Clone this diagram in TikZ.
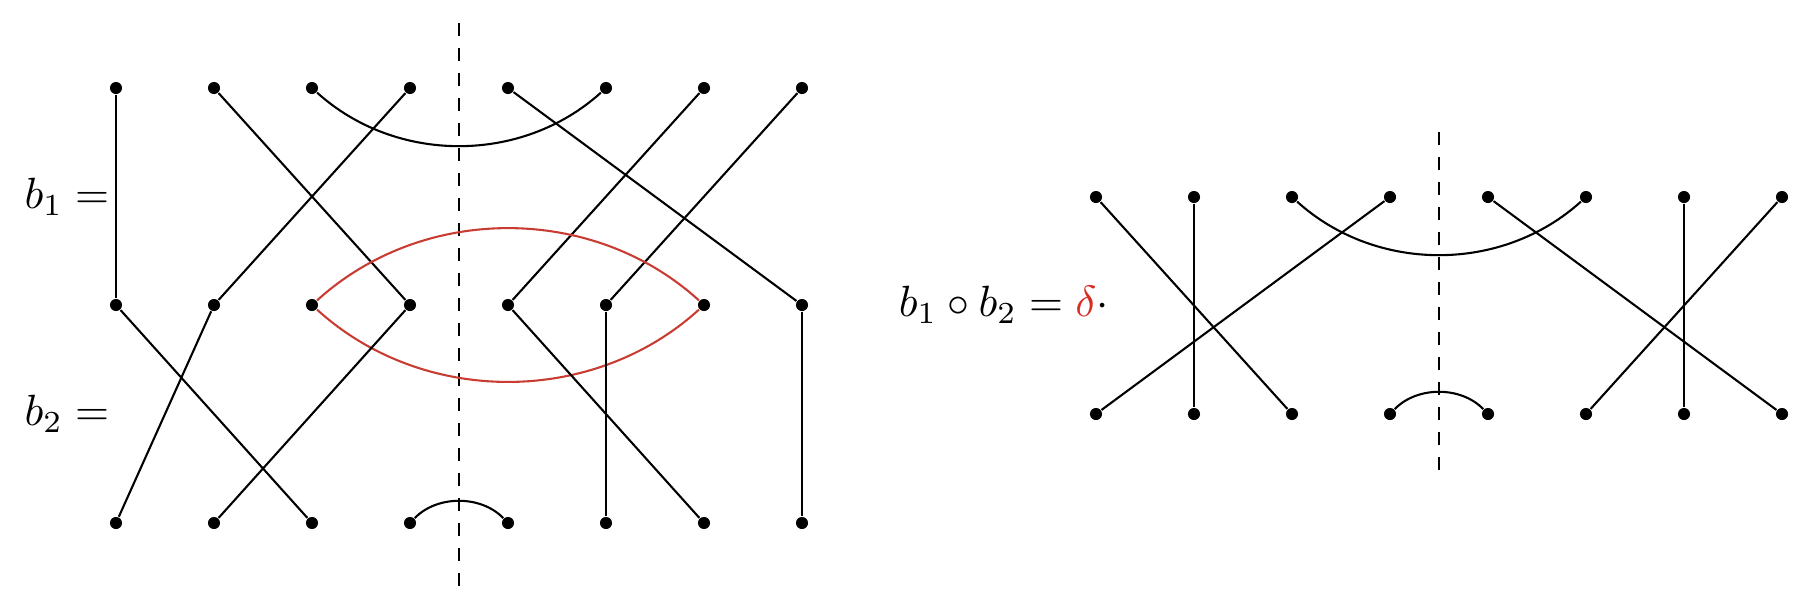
\documentclass[tikz,border=0pt]{standalone}
\usepackage{amsmath}
\definecolor{lensred}{RGB}{200,60,50}
\definecolor{deltared}{RGB}{215,45,35}
\begin{document}
\begin{tikzpicture}[x=0.24pt,y=-0.24pt,
  dot/.style={circle,fill=black,inner sep=0pt,minimum size=2.9pt},
  strand/.style={line width=0.5pt},
  lens/.style={line width=0.5pt,draw=lensred},
  axis/.style={line width=0.45pt,dash pattern=on 3pt off 3pt}]
\useasboundingbox (0,0) rectangle (1818,610);
% left diagram dots
\foreach \i/\x in {1/116,2/214,3/312,4/410,5/508,6/606,7/704,8/802}{
  \node[dot] (t\i) at (\x,88) {};
  \node[dot] (m\i) at (\x,305) {};
  \node[dot] (c\i) at (\x,523) {};
}
% right diagram dots
\foreach \i/\x in {1/1096,2/1194,3/1292,4/1390,5/1488,6/1586,7/1684,8/1782}{
  \node[dot] (p\i) at (\x,197) {};
  \node[dot] (q\i) at (\x,414) {};
}
% dashed axes
\coordinate (la) at (459,23);
\coordinate (lb) at (459,588);
\coordinate (ra) at (1439,132);
\coordinate (rb) at (1439,476);
\draw[axis] (la) -- (lb);
\draw[axis] (ra) -- (rb);
% b1
\draw[strand] (t1) -- (m1);
\draw[strand] (t2) -- (m4);
\draw[strand] (t3) .. controls +(84,76) and +(-84,76) .. (t6);
\draw[strand] (t4) -- (m2);
\draw[strand] (t5) -- (m8);
\draw[strand] (t7) -- (m5);
\draw[strand] (t8) -- (m6);
% lens (closed loop)
\draw[lens] (m3) .. controls +(111,-101) and +(-111,-101) .. (m7);
\draw[lens] (m3) .. controls +(111,101) and +(-111,101) .. (m7);
% b2
\draw[strand] (m1) -- (c3);
\draw[strand] (m2) -- (c1);
\draw[strand] (m4) -- (c2);
\draw[strand] (m5) -- (c7);
\draw[strand] (m6) -- (c6);
\draw[strand] (m8) -- (c8);
\draw[strand] (c4) .. controls +(27,-28) and +(-27,-28) .. (c5);
% right diagram
\draw[strand] (p1) -- (q3);
\draw[strand] (p2) -- (q2);
\draw[strand] (p3) .. controls +(84,76) and +(-84,76) .. (p6);
\draw[strand] (p4) -- (q1);
\draw[strand] (p5) -- (q8);
\draw[strand] (p7) -- (q7);
\draw[strand] (p8) -- (q6);
\draw[strand] (q4) .. controls +(27,-28) and +(-27,-28) .. (q5);
% labels
\node[anchor=east,inner sep=0pt,scale=1.05] (lb1) at (110,197) {$b_1 =$};
\node[anchor=east,inner sep=0pt,scale=1.05] (lb2) at (110,414) {$b_2 =$};
\node[anchor=west,inner sep=0pt,scale=1.05] (lres) at (898,305) {$b_1 \circ b_2 = \textcolor{deltared}{\delta}\cdot$};
\end{tikzpicture}
\end{document}
